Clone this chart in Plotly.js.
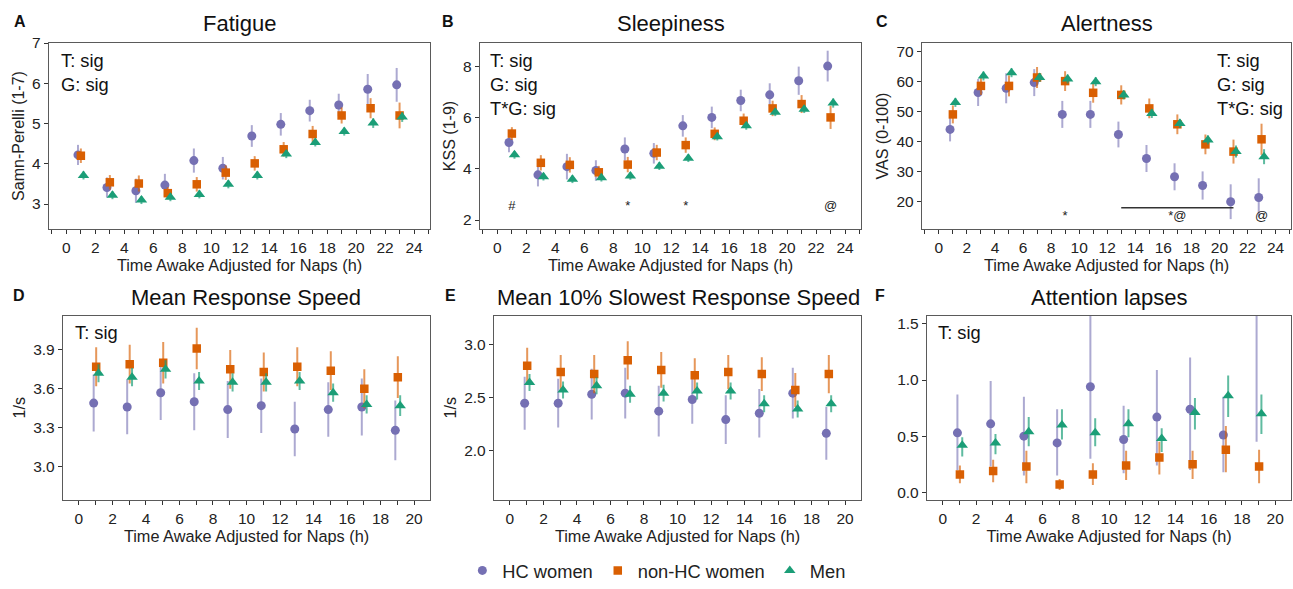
<!DOCTYPE html>
<html>
<head>
<meta charset="utf-8">
<script src="https://cdn.plot.ly/plotly-3.0.1.min.js"></script>
<style>html,body{margin:0;padding:0;background:#fff;}#chart{width:1293px;height:589px;}</style>
</head>
<body>
<div id="chart"></div>
<script>
// ---------- data ----------
const seriesNames = ["HC women", "non-HC women", "Men"];
const hoursTop = [1, 3, 5, 7, 9, 11, 13, 15, 17, 19, 21, 23];
const hoursBottom = [1, 3, 5, 7, 9, 11, 13, 15, 17, 19];

// A: Fatigue (Samn-Perelli)
const fatigueHC = [4.22, 3.41, 3.33, 3.47, 4.08, 3.89, 4.69, 4.98, 5.32, 5.46, 5.85, 5.96];
const fatigueHCerr = [0.25, 0.25, 0.3, 0.28, 0.3, 0.28, 0.27, 0.28, 0.27, 0.28, 0.38, 0.42];
const fatigueNonHC = [4.20, 3.54, 3.51, 3.27, 3.49, 3.78, 4.01, 4.36, 4.74, 5.20, 5.38, 5.20];
const fatigueNonHCerr = [0.18, 0.18, 0.2, 0.15, 0.18, 0.18, 0.18, 0.18, 0.2, 0.2, 0.25, 0.32];
const fatigueMen = [3.71, 3.22, 3.10, 3.17, 3.24, 3.49, 3.71, 4.24, 4.53, 4.80, 5.01, 5.16];
const fatigueMenErr = [0.1, 0.1, 0.1, 0.1, 0.1, 0.1, 0.1, 0.1, 0.1, 0.1, 0.12, 0.12];

// B: Sleepiness (KSS)
const kssHC = [5.02, 3.76, 4.08, 3.93, 4.77, 4.60, 5.67, 6.00, 6.66, 6.88, 7.43, 8.00];
const kssHCerr = [0.38, 0.45, 0.5, 0.4, 0.45, 0.4, 0.42, 0.42, 0.42, 0.45, 0.55, 0.6];
const kssNonHC = [5.37, 4.23, 4.15, 3.86, 4.16, 4.63, 4.92, 5.36, 5.87, 6.35, 6.52, 6.00];
const kssNonHCerr = [0.25, 0.3, 0.3, 0.25, 0.3, 0.3, 0.3, 0.25, 0.28, 0.3, 0.35, 0.45];
const kssMen = [4.54, 3.69, 3.59, 3.65, 3.72, 4.10, 4.41, 5.25, 5.67, 6.20, 6.32, 6.56];
const kssMenErr = [0.15, 0.15, 0.15, 0.15, 0.15, 0.15, 0.15, 0.15, 0.15, 0.15, 0.15, 0.18];
const kssSigX = [1, 9, 13, 23];
const kssSigText = ["#", "*", "*", "@"];

// C: Alertness (VAS)
const vasHC = [44.1, 56.4, 57.8, 59.7, 49.1, 49.1, 42.4, 34.4, 28.3, 25.4, 20.0, 21.4];
const vasHCerr = [4, 4.5, 5, 4.5, 4.5, 4.5, 4.3, 4.5, 4.5, 4.7, 5.8, 6.4];
const vasNonHC = [49.1, 58.6, 58.6, 61.4, 60.2, 56.3, 55.6, 51.1, 45.8, 39.1, 36.7, 40.8];
const vasNonHCerr = [3, 3, 3.5, 3.5, 3.3, 3.3, 3.2, 3.3, 3.3, 3.3, 4, 5.2];
const vasMen = [53.1, 61.9, 63.0, 61.4, 60.9, 60.0, 55.6, 49.4, 46.1, 40.6, 36.7, 35.0];
const vasMenErr = [1.5, 1.5, 1.5, 1.5, 1.5, 1.5, 1.5, 1.5, 1.5, 1.5, 2, 2.5];
const vasSigX = [9, 17, 23];
const vasSigText = ["*", "*@", "@"];
const vasSigSpan = [13, 21];

// D: Mean Response Speed
const speedHC = [3.49, 3.46, 3.57, 3.50, 3.44, 3.47, 3.29, 3.44, 3.46, 3.28];
const speedHCerr = [0.22, 0.21, 0.21, 0.22, 0.22, 0.21, 0.21, 0.21, 0.22, 0.23];
const speedNonHC = [3.77, 3.79, 3.80, 3.91, 3.75, 3.73, 3.77, 3.74, 3.60, 3.69];
const speedNonHCerr = [0.15, 0.15, 0.16, 0.16, 0.15, 0.15, 0.15, 0.15, 0.15, 0.16];
const speedMen = [3.72, 3.69, 3.75, 3.66, 3.65, 3.65, 3.66, 3.57, 3.48, 3.47];
const speedMenErr = [0.07, 0.07, 0.07, 0.07, 0.07, 0.07, 0.07, 0.07, 0.07, 0.08];

// E: Mean 10% Slowest Response Speed
const slowHC = [2.445, 2.445, 2.53, 2.54, 2.37, 2.48, 2.29, 2.35, 2.54, 2.16];
const slowHCerr = [0.25, 0.23, 0.24, 0.24, 0.24, 0.23, 0.23, 0.23, 0.24, 0.25];
const slowNonHC = [2.80, 2.74, 2.72, 2.85, 2.76, 2.71, 2.74, 2.72, 2.57, 2.72];
const slowNonHCerr = [0.17, 0.16, 0.18, 0.18, 0.17, 0.16, 0.16, 0.16, 0.16, 0.18];
const slowMen = [2.64, 2.57, 2.61, 2.53, 2.54, 2.56, 2.56, 2.44, 2.39, 2.44];
const slowMenErr = [0.08, 0.08, 0.08, 0.08, 0.08, 0.08, 0.08, 0.08, 0.08, 0.08];

// F: Attention lapses (mean, upper bound, lower bound)
const lapsesHC = [0.53, 0.61, 0.50, 0.44, 0.94, 0.47, 0.67, 0.74, 0.51, 1.65];
const lapsesHCup = [0.87, 0.99, 0.85, 0.74, 1.70, 0.77, 1.09, 1.20, 0.85, 2.80];
const lapsesHClo = [0.20, 0.23, 0.15, 0.15, 0.30, 0.17, 0.24, 0.20, 0.18, 0.45];
const lapsesNonHC = [0.16, 0.19, 0.23, 0.07, 0.16, 0.24, 0.31, 0.25, 0.38, 0.23];
const lapsesNonHCup = [0.24, 0.29, 0.37, 0.12, 0.26, 0.37, 0.45, 0.37, 0.59, 0.38];
const lapsesNonHClo = [0.08, 0.09, 0.08, 0.02, 0.065, 0.11, 0.16, 0.12, 0.18, 0.08];
const lapsesMen = [0.42, 0.44, 0.54, 0.60, 0.53, 0.61, 0.48, 0.71, 0.86, 0.70];
const lapsesMenUp = [0.49, 0.52, 0.67, 0.74, 0.66, 0.74, 0.57, 0.84, 1.04, 0.87];
const lapsesMenLo = [0.32, 0.34, 0.41, 0.47, 0.41, 0.49, 0.36, 0.56, 0.67, 0.52];

// ---------- styling ----------
const FONT = "Liberation Sans, Arial, Helvetica, sans-serif";
const colors = ["#7570B3", "#D95F02", "#1B9E77"];
const errColors = ["rgba(117,112,179,0.6)", "rgba(217,95,2,0.65)", "rgba(27,158,119,0.7)"];
const symbols = ["circle", "square", "triangle-up"];
const sizes = [9, 8.5, 10];
const dodgeTop = [-0.2, 0, 0.18];
const dodgeBottom = [-0.12, 0.03, 0.17];

const traces = [];
function addSeries(k, xs, ys, errPlus, errMinus, axisIdx, dodge, showLegend) {
  const sfx = axisIdx === 1 ? "" : String(axisIdx);
  traces.push({
    type: "scatter", mode: "markers",
    name: seriesNames[k], legendgroup: seriesNames[k], showlegend: showLegend,
    x: xs.map(v => v + dodge[k]), y: ys,
    xaxis: "x" + sfx, yaxis: "y" + sfx,
    marker: {color: colors[k], symbol: symbols[k], size: sizes[k], line: {width: 0}},
    error_y: errMinus ? {type: "data", symmetric: false, array: errPlus, arrayminus: errMinus, width: 0, thickness: 2, color: errColors[k]}
                      : {type: "data", array: errPlus, width: 0, thickness: 2, color: errColors[k]},
    hoverinfo: "x+y+name"
  });
}
function diff(a, b) { return a.map((v, i) => v - b[i]); }

// Panel A
addSeries(0, hoursTop, fatigueHC, fatigueHCerr, null, 1, dodgeTop, true);
addSeries(1, hoursTop, fatigueNonHC, fatigueNonHCerr, null, 1, dodgeTop, true);
addSeries(2, hoursTop, fatigueMen, fatigueMenErr, null, 1, dodgeTop, true);
// Panel B
addSeries(0, hoursTop, kssHC, kssHCerr, null, 2, dodgeTop, false);
addSeries(1, hoursTop, kssNonHC, kssNonHCerr, null, 2, dodgeTop, false);
addSeries(2, hoursTop, kssMen, kssMenErr, null, 2, dodgeTop, false);
// Panel C
addSeries(0, hoursTop, vasHC, vasHCerr, null, 3, dodgeTop, false);
addSeries(1, hoursTop, vasNonHC, vasNonHCerr, null, 3, dodgeTop, false);
addSeries(2, hoursTop, vasMen, vasMenErr, null, 3, dodgeTop, false);
// Panel D
addSeries(0, hoursBottom, speedHC, speedHCerr, null, 4, dodgeBottom, false);
addSeries(1, hoursBottom, speedNonHC, speedNonHCerr, null, 4, dodgeBottom, false);
addSeries(2, hoursBottom, speedMen, speedMenErr, null, 4, dodgeBottom, false);
// Panel E
addSeries(0, hoursBottom, slowHC, slowHCerr, null, 5, dodgeBottom, false);
addSeries(1, hoursBottom, slowNonHC, slowNonHCerr, null, 5, dodgeBottom, false);
addSeries(2, hoursBottom, slowMen, slowMenErr, null, 5, dodgeBottom, false);
// Panel F
addSeries(0, hoursBottom, lapsesHC, diff(lapsesHCup, lapsesHC), diff(lapsesHC, lapsesHClo), 6, dodgeBottom, false);
addSeries(1, hoursBottom, lapsesNonHC, diff(lapsesNonHCup, lapsesNonHC), diff(lapsesNonHC, lapsesNonHClo), 6, dodgeBottom, false);
addSeries(2, hoursBottom, lapsesMen, diff(lapsesMenUp, lapsesMen), diff(lapsesMen, lapsesMenLo), 6, dodgeBottom, false);

// significance markers
traces.push({type: "scatter", mode: "text", x: kssSigX, y: kssSigX.map(() => 2.5), text: kssSigText,
  textfont: {family: FONT, size: 13, color: "#222"}, xaxis: "x2", yaxis: "y2", showlegend: false, hoverinfo: "skip"});
traces.push({type: "scatter", mode: "text", x: vasSigX, y: vasSigX.map(() => 15), text: vasSigText,
  textfont: {family: FONT, size: 13, color: "#222"}, xaxis: "x3", yaxis: "y3", showlegend: false, hoverinfo: "skip"});
traces.push({type: "scatter", mode: "lines", x: vasSigSpan, y: [18, 18], line: {color: "#333", width: 1.5},
  xaxis: "x3", yaxis: "y3", showlegend: false, hoverinfo: "skip"});

// ---------- axes ----------
const W = 1293, H = 589;
function px(a, b) { return [a / W, b / W]; }
function py(top, bottom) { return [1 - bottom / H, 1 - top / H]; }

function xAxis(domain, range, maxTick, anchor) {
  const vals = [];
  for (let v = 0; v <= maxTick; v += 2) vals.push(v);
  return {
    domain: domain, range: range, anchor: anchor,
    tickmode: "array", tickvals: vals, ticktext: vals.map(String),
    ticks: "outside", ticklen: 4, tickwidth: 1, tickcolor: "#333",
    minor: {tickmode: "linear", tick0: 0, dtick: 1, ticks: "outside", ticklen: 4, tickwidth: 1, tickcolor: "#333"},
    showline: true, mirror: true, linecolor: "#5a5a5a", linewidth: 1.4,
    showgrid: false, zeroline: false,
    tickfont: {family: FONT, size: 15.5, color: "#222"},
    title: {text: "Time Awake Adjusted for Naps (h)", font: {family: FONT, size: 16.3, color: "#222"}, standoff: 0}
  };
}
function yAxis(domain, range, tickvals, ticktext, title, anchor) {
  return {
    domain: domain, range: range, anchor: anchor,
    tickmode: "array", tickvals: tickvals, ticktext: ticktext,
    ticks: "outside", ticklen: 4, tickwidth: 1, tickcolor: "#333",
    showline: true, mirror: true, linecolor: "#5a5a5a", linewidth: 1.4,
    showgrid: false, zeroline: false,
    tickfont: {family: FONT, size: 15.5, color: "#222"},
    title: {text: title, font: {family: FONT, size: 16, color: "#222"}, standoff: 3}
  };
}

const rowTop = py(43, 229);
const rowBot = py(315.5, 500);

const layout = {
  width: W, height: H,
  margin: {l: 0, r: 0, t: 0, b: 0},
  paper_bgcolor: "#fff", plot_bgcolor: "#fff",
  font: {family: FONT, color: "#222"},
  showlegend: true,
  legend: {orientation: "h", x: 0.508, xanchor: "center", y: 0, yanchor: "bottom",
           font: {family: FONT, size: 18.3, color: "#222"}, itemwidth: 30, tracegroupgap: 0},
  xaxis: xAxis(px(49, 430), [-1.2, 25.1], 24, "y"),
  yaxis: yAxis(rowTop, [2.38, 7.0], [3, 4, 5, 6, 7], ["3", "4", "5", "6", "7"], "Samn-Perelli (1-7)", "x"),
  xaxis2: xAxis(px(480, 861), [-1.2, 25.1], 24, "y2"),
  yaxis2: yAxis(rowTop, [1.65, 8.9], [2, 4, 6, 8], ["2", "4", "6", "8"], "KSS (1-9)", "x2"),
  xaxis3: xAxis(px(922, 1291), [-1.2, 25.1], 24, "y3"),
  yaxis3: yAxis(rowTop, [10.9, 72.9], [20, 30, 40, 50, 60, 70], ["20", "30", "40", "50", "60", "70"], "VAS (0-100)", "x3"),
  xaxis4: xAxis(px(63, 430), [-0.95, 20.95], 20, "y4"),
  yaxis4: yAxis(rowBot, [2.743, 4.165], [3.0, 3.3, 3.6, 3.9], ["3.0", "3.3", "3.6", "3.9"], "1/s", "x4"),
  xaxis5: xAxis(px(494, 861), [-0.95, 20.95], 20, "y5"),
  yaxis5: yAxis(rowBot, [1.53, 3.274], [2.0, 2.5, 3.0], ["2.0", "2.5", "3.0"], "1/s", "x5"),
  xaxis6: xAxis(px(927, 1291), [-0.95, 20.95], 20, "y6"),
  yaxis6: yAxis(rowBot, [-0.068, 1.574], [0, 0.5, 1.0, 1.5], ["0.0", "0.5", "1.0", "1.5"], "", "x6"),
  annotations: []
};

const titles = [
  {letter: "A", title: "Fatigue", lx: 20, tx: 239.5, ty: 23},
  {letter: "B", title: "Sleepiness", lx: 448, tx: 671, ty: 23},
  {letter: "C", title: "Alertness", lx: 882, tx: 1107, ty: 23},
  {letter: "D", title: "Mean Response Speed", lx: 19, tx: 246, ty: 297},
  {letter: "E", title: "Mean 10% Slowest Response Speed", lx: 450, tx: 678, ty: 297},
  {letter: "F", title: "Attention lapses", lx: 880, tx: 1109, ty: 297}
];
titles.forEach(t => {
  layout.annotations.push({xref: "paper", yref: "paper", x: t.lx / W, y: 1 - (t.ty - 2) / H, xanchor: "center", yanchor: "middle",
    text: "<b>" + t.letter + "</b>", showarrow: false, font: {family: FONT, size: 16, color: "#111"}});
  layout.annotations.push({xref: "paper", yref: "paper", x: t.tx / W, y: 1 - t.ty / H, xanchor: "center", yanchor: "middle",
    text: t.title, showarrow: false, font: {family: FONT, size: 22, color: "#111"}});
});

const sigNotes = [
  {axis: "", text: "T: sig<br>G: sig", x: 0.026, xanchor: "left"},
  {axis: "2", text: "T: sig<br>G: sig<br>T*G: sig", x: 0.02, xanchor: "left"},
  {axis: "3", text: "T: sig<br>G: sig<br>T*G: sig", x: 0.983, xanchor: "right"},
  {axis: "4", text: "T: sig", x: 0.026, xanchor: "left"},
  {axis: "6", text: "T: sig", x: 0.026, xanchor: "left"}
];
sigNotes.forEach(n => {
  layout.annotations.push({xref: "x" + n.axis + " domain", yref: "y" + n.axis + " domain", x: n.x, y: 0.975,
    xanchor: n.xanchor, yanchor: "top", align: "left", text: n.text, showarrow: false,
    font: {family: FONT, size: 18.3, color: "#111"}});
});

Plotly.newPlot("chart", traces, layout, {displayModeBar: false, responsive: false});
</script>
</body>
</html>
